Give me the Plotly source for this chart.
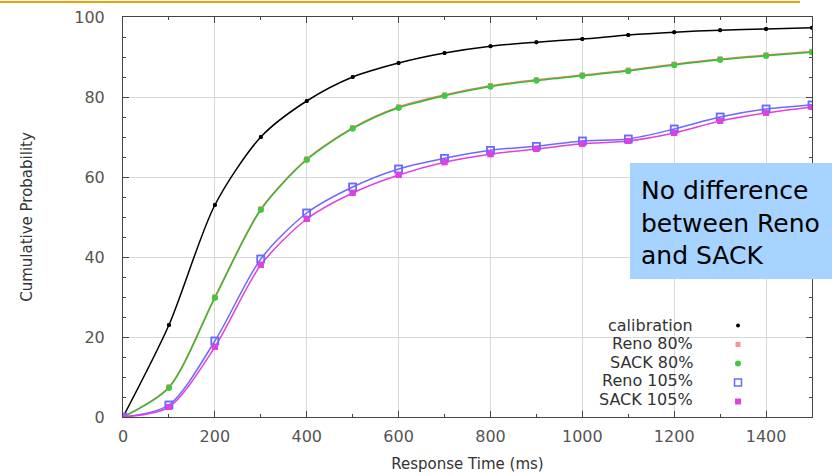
import plotly.graph_objects as go

time_ms = [0, 100, 200, 300, 400, 500, 600, 700, 800, 900, 1000, 1100, 1200, 1300, 1400, 1500]
calibration = [0, 23, 53, 70, 79, 85, 88.5, 91, 92.7, 93.7, 94.5, 95.5, 96.2, 96.7, 97, 97.3]
reno_80 = [0, 7.5, 30, 52, 64.5, 72.3, 77.5, 80.5, 82.8, 84.3, 85.5, 86.7, 88.2, 89.5, 90.5, 91.4]
sack_80 = [0, 7.3, 29.8, 51.8, 64.3, 72.1, 77.3, 80.3, 82.6, 84.1, 85.3, 86.5, 88.0, 89.3, 90.3, 91.2]
reno_105 = [0, 3, 19, 39.5, 51, 57.5, 62, 64.7, 66.7, 67.7, 69, 69.5, 72, 75, 77, 78]
sack_105 = [0, 2.5, 17.5, 38, 49.5, 56, 60.5, 63.7, 65.7, 67, 68.3, 69, 71, 74, 76, 77.5]
legend_labels = ["calibration", "Reno 80%", "SACK 80%", "Reno 105%", "SACK 105%"]
callout_lines = ["No difference", "between Reno", "and SACK"]

series = [
    (legend_labels[0], calibration, "#000000", dict(symbol="circle", size=4, color="#000000")),
    (legend_labels[1], reno_80, "#ff7070", dict(symbol="square", size=5, color="#ff9090")),
    (legend_labels[2], sack_80, "#30c030", dict(symbol="circle", size=6, color="#40c840")),
    (legend_labels[3], reno_105, "#6a6aff", dict(symbol="square-open", size=7, color="#6a6aff", line=dict(width=1.5))),
    (legend_labels[4], sack_105, "#e040e0", dict(symbol="square", size=6, color="#e040e0")),
]

# plot-area geometry (absolute pixels)
PL, PR, PT, PB = 123, 812, 17, 417
PW, PH = PR - PL, PB - PT

def px(x):
    return (x - PL) / PW

def py(y):
    return (PB - y) / PH

fig = go.Figure()
for name, vals, col, mk in series:
    fig.add_trace(go.Scatter(
        x=time_ms, y=vals, name=name, mode="lines+markers",
        line=dict(color=col, width=1.5, shape="spline", smoothing=0.8),
        marker=mk, showlegend=False,
    ))
# legend samples (markers only; text drawn separately, right-aligned like gnuplot)
for name, vals, col, mk in series:
    fig.add_trace(go.Scatter(
        x=time_ms, y=vals, name=" ", mode="markers", marker=mk,
        showlegend=True, hoverinfo="skip",
    ))

tickfont = dict(family="DejaVu Sans", size=16, color="#555")
axis_common = dict(
    showline=True, linecolor="#444", linewidth=1, mirror="ticks",
    ticks="inside", ticklen=6, tickcolor="#444",
    showgrid=True, gridcolor="#d8d8d8", gridwidth=1,
    zeroline=False, tickfont=tickfont,
)

fig.update_xaxes(range=[0, 1500], dtick=200, tick0=0, ticklabelstandoff=5,
                 minor=dict(dtick=100, ticks="inside", ticklen=3, tickcolor="#444", showgrid=False),
                 title=dict(text="Response Time (ms)", font=dict(family="DejaVu Sans", size=15, color="#333"), standoff=13),
                 **axis_common)
fig.update_yaxes(range=[0, 100], dtick=20, tick0=0, ticklabelstandoff=14,
                 minor=dict(dtick=5, ticks="inside", ticklen=3, tickcolor="#444", showgrid=False),
                 title=dict(text="Cumulative Probability", font=dict(family="DejaVu Sans", size=15, color="#333"), standoff=38),
                 **axis_common)

fig.update_layout(
    width=832, height=476,
    margin=dict(l=PL, r=832 - PR, t=PT, b=476 - PB, autoexpand=False),
    paper_bgcolor="white", plot_bgcolor="white",
    showlegend=True,
    legend=dict(x=px(718), y=py(311), xanchor="left", yanchor="top",
                bgcolor="rgba(0,0,0,0)", font=dict(family="DejaVu Sans", size=11, color="#333"),
                tracegroupgap=0, itemwidth=30, itemclick=False, itemdoubleclick=False),
)

for i, lab in enumerate(legend_labels):
    fig.add_annotation(xref="paper", yref="paper", x=px(695), y=py(325 + 18.5 * i),
                       text=lab, showarrow=False, xanchor="right", yanchor="middle",
                       font=dict(family="DejaVu Sans", size=16, color="#333"))

# Slide decoration line at top
fig.add_shape(type="line", xref="paper", yref="paper", x0=px(0), x1=px(800),
              y0=py(2), y1=py(2), line=dict(color="#f0a000", width=2))

# Callout box
fig.add_shape(type="rect", xref="paper", yref="paper",
              x0=px(630), x1=px(832), y0=py(279), y1=py(163),
              fillcolor="#a6d3ff", line=dict(width=0), layer="above")
for i, txt in enumerate(callout_lines):
    fig.add_annotation(xref="paper", yref="paper", x=px(639), y=py(190 + 33 * i),
                       text=txt, showarrow=False, xanchor="left", yanchor="middle",
                       font=dict(family="DejaVu Sans", size=25, color="#000"))

fig.write_html("out.html", config={"displayModeBar": False},
               post_script="document.body.style.margin='0';")
